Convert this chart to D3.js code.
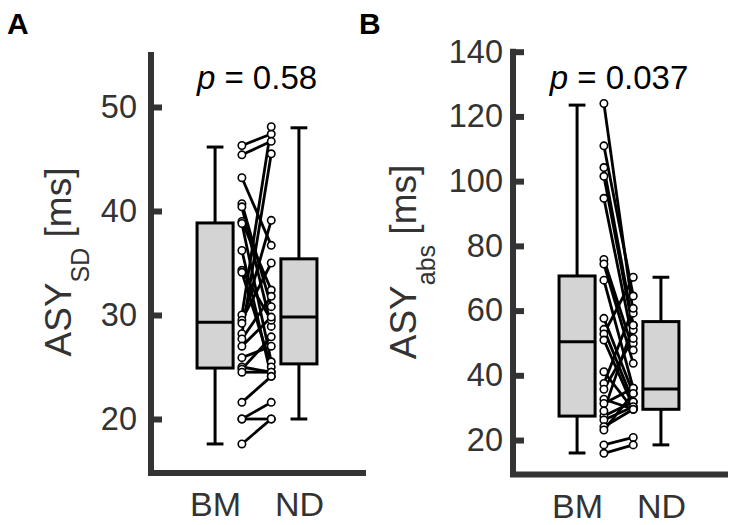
<!DOCTYPE html>
<html>
<head>
<meta charset="utf-8">
<script src="https://cdn.jsdelivr.net/npm/d3@7"></script>
<style>
  body { margin: 0; background: #fff; }
  text { font-family: "Liberation Sans", Arial, Helvetica, sans-serif; }
</style>
</head>
<body>
<svg id="chart" width="733" height="525"></svg>
<script>
// groups on the x axis
const groups = ["BM", "ND"];

// panel A : ASY_SD [ms]
const ticksA = [20, 30, 40, 50];
const bmA = [46.3, 45.4, 43.2, 40.7, 40.4, 39.0, 38.8, 36.2, 34.3, 34.1, 30.0, 29.5,
             29.2, 28.2, 27.7, 27.0, 25.9, 25.0, 24.8, 24.5, 21.6, 20.0, 20.0, 17.6];
const ndA = [47.4, 46.7, 36.7, 30.8, 28.9, 32.4, 25.5, 24.1, 29.5, 25.0, 48.1, 35.0,
             39.1, 45.5, 31.8, 29.8, 27.0, 24.5, 27.9, 24.5, 24.1, 21.6, 20.0, 20.0];
// [lower whisker, q1, median, q3, upper whisker]
const boxBmA = [17.6, 24.9, 29.3, 38.85, 46.15];
const boxNdA = [20.0, 25.3, 29.8, 35.4, 48.0];

// panel B : ASY_abs [ms]
const ticksB = [20, 40, 60, 80, 100, 120, 140];
const bmB = [124.0, 110.9, 104.2, 101.5, 94.7, 75.8, 74.4, 69.4, 57.6, 54.2, 52.8, 50.9,
             41.1, 37.5, 35.7, 32.6, 31.3, 27.4, 26.2, 24.1, 23.1, 18.5, 15.9, 29.0];
const ndB = [59.2, 64.5, 55.5, 54.0, 49.9, 47.8, 43.7, 36.0, 34.4, 31.8, 70.3, 30.3,
             29.5, 60.7, 51.4, 29.5, 36.0, 31.8, 30.3, 29.5, 34.4, 20.8, 18.5, 55.5];
const boxBmB = [16.0, 27.4, 50.4, 70.7, 123.5];
const boxNdB = [18.5, 29.5, 35.8, 56.6, 70.3];

const svg = d3.select("#chart");
const axisColor = "#333";

function drawPanel(opt) {
  const x = d3.scaleLinear().domain([0.2, 2.8]).range(opt.xRange);
  const y = d3.scaleLinear().domain(opt.yDomain).range([opt.yBottom, opt.yTop]);
  const g = svg.append("g");
  const axisX = x(0.2) + 3;
  const axisY = y(opt.yDomain[0]) + 2;

  // boxes
  const boxes = [opt.boxBm, opt.boxNd];
  const half = 0.215, cap = 0.1;
  boxes.forEach((b, i) => {
    const cx = i + 1;
    const bg = g.append("g");
    bg.append("line")
      .attr("x1", x(cx)).attr("x2", x(cx))
      .attr("y1", y(b[0])).attr("y2", y(b[4]))
      .attr("stroke", "#000").attr("stroke-width", 3);
    [b[0], b[4]].forEach(v => {
      bg.append("line")
        .attr("x1", x(cx - cap)).attr("x2", x(cx + cap))
        .attr("y1", y(v)).attr("y2", y(v))
        .attr("stroke", "#000").attr("stroke-width", 3);
    });
    bg.append("rect")
      .attr("x", x(cx - half)).attr("width", x(cx + half) - x(cx - half))
      .attr("y", y(b[3])).attr("height", y(b[1]) - y(b[3]))
      .attr("fill", "#d4d4d4").attr("stroke", "#000").attr("stroke-width", 3);
    bg.append("line")
      .attr("x1", x(cx - half)).attr("x2", x(cx + half))
      .attr("y1", y(b[2])).attr("y2", y(b[2]))
      .attr("stroke", "#000").attr("stroke-width", 3);
  });

  // paired lines
  const pairs = opt.bm.map((v, i) => [v, opt.nd[i]]);
  const xl = 1.32, xr = 1.67;
  g.append("g").selectAll("line").data(pairs).join("line")
    .attr("x1", x(xl)).attr("x2", x(xr))
    .attr("y1", d => y(d[0])).attr("y2", d => y(d[1]))
    .attr("stroke", "#000").attr("stroke-width", 2.8);
  const pts = pairs.flatMap(d => [[xl, d[0]], [xr, d[1]]]);
  g.append("g").selectAll("circle").data(pts).join("circle")
    .attr("cx", d => x(d[0])).attr("cy", d => y(d[1])).attr("r", 3.7)
    .attr("fill", "#fff").attr("stroke", "#000").attr("stroke-width", 1.6);

  // axes
  const yAx = g.append("g")
    .attr("transform", `translate(${axisX},0)`)
    .call(d3.axisLeft(y).tickValues(opt.ticks).tickSize(-11).tickPadding(opt.pad));
  yAx.select(".domain").remove();
  yAx.selectAll(".tick line").attr("stroke", axisColor).attr("stroke-width", 6);
  yAx.selectAll(".tick text").attr("fill", axisColor).attr("font-size", 32.5)
    .attr("font-family", "Liberation Sans, Arial, sans-serif");

  const xAx = g.append("g")
    .attr("transform", `translate(0,${axisY})`)
    .call(d3.axisBottom(x).tickValues([1, 2]).tickFormat((d, i) => groups[i])
      .tickSize(0).tickPadding(19));
  xAx.select(".domain").remove();
  xAx.selectAll(".tick text").attr("fill", axisColor).attr("font-size", 34)
    .attr("font-family", "Liberation Sans, Arial, sans-serif");

  g.append("line")
    .attr("x1", axisX).attr("x2", axisX)
    .attr("y1", opt.yTop - 3).attr("y2", axisY)
    .attr("stroke", axisColor).attr("stroke-width", 6);
  g.append("line")
    .attr("x1", axisX - 3).attr("x2", x(2.8))
    .attr("y1", axisY).attr("y2", axisY)
    .attr("stroke", axisColor).attr("stroke-width", 6);

  // y label
  const lab = g.append("text")
    .attr("transform", `translate(${opt.labX},262) rotate(-90)`)
    .attr("text-anchor", "middle").attr("fill", axisColor).attr("font-size", 37);
  lab.append("tspan").text("ASY");
  lab.append("tspan").attr("dy", opt.subShift).attr("font-size", 25).text(opt.sub);
  lab.append("tspan").attr("dy", -opt.subShift).text(" [ms]");

  // p value
  const p = g.append("text")
    .attr("x", x(1.5)).attr("y", 89)
    .attr("text-anchor", "middle").attr("font-size", 33).attr("fill", "#000");
  p.append("tspan").attr("font-style", "italic").text("p");
  p.append("tspan").text(" = " + opt.p);

  // panel letter
  svg.append("text")
    .attr("x", opt.letterX).attr("y", 34)
    .attr("font-size", 30).attr("font-weight", "bold").attr("fill", "#000")
    .text(opt.letter);
}

drawPanel({
  xRange: [148, 366], yDomain: [15, 55], yBottom: 471, yTop: 55,
  ticks: ticksA, bm: bmA, nd: ndA, boxBm: boxBmA, boxNd: boxNdA,
  pad: 14, labX: 71, sub: "SD", subShift: 18, p: "0.58", letter: "A", letterX: 7
});

drawPanel({
  xRange: [510, 728], yDomain: [10, 140], yBottom: 472.4, yTop: 51.7,
  ticks: ticksB, bm: bmB, nd: ndB, boxBm: boxBmB, boxNd: boxNdB,
  pad: 10, labX: 416, sub: "abs", subShift: 19, p: "0.037", letter: "B", letterX: 359
});
</script>
</body>
</html>
